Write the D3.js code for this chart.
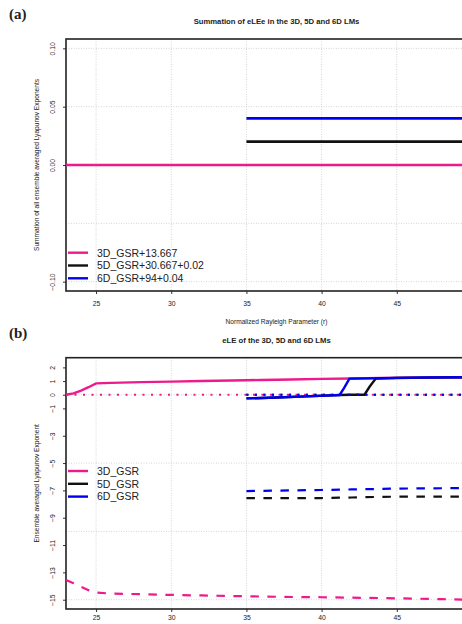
<!DOCTYPE html>
<html>
<head>
<meta charset="utf-8">
<script src="https://cdn.jsdelivr.net/npm/d3@7"></script>
<style>
body { margin: 0; background: #fff; }
text { font-family: "Liberation Sans", Arial, sans-serif; fill: #222; }
</style>
</head>
<body>
<svg id="chart"></svg>
<script>
// ---- data ----
var xTicks = [25, 30, 35, 40, 45];

// (a) sums of exponents (shifted)
var sumNames = ["3D_GSR+13.667", "5D_GSR+30.667+0.02", "6D_GSR+94+0.04"];
var sum3D_r = [23, 50],  sum3D = [0.0, 0.0];
var sum5D_r = [35, 50],  sum5D = [0.02, 0.02];
var sum6D_r = [35, 50],  sum6D = [0.04, 0.04];
var yTicksA = [0.10, 0.05, 0.00, -0.10];
var yGridA = [0.10, 0.05, 0.00, -0.05, -0.10];

// (b) exponents
var leNames = ["3D_GSR", "5D_GSR", "6D_GSR"];
var r3D    = [23, 23.5, 24, 24.5, 25, 26, 28, 30, 32, 34, 35, 36, 38, 40, 42, 44, 46, 48, 50];
var le3D_1 = [0.0, 0.1, 0.3, 0.55, 0.83, 0.87, 0.92, 0.96, 1.0, 1.04, 1.06, 1.08, 1.12, 1.16, 1.19, 1.22, 1.25, 1.27, 1.29];
var le3D_2 = [0, 0, 0, 0, 0, 0, 0, 0, 0, 0, 0, 0, 0, 0, 0, 0, 0, 0, 0];
var le3D_3 = [-13.56, -13.8, -14.05, -14.3, -14.48, -14.55, -14.6, -14.65, -14.69, -14.73, -14.75, -14.77, -14.8, -14.82, -14.85, -14.88, -14.92, -14.96, -15.0];

var r5D_1  = [35, 37, 39, 41.2, 42, 42.85, 43.2, 43.6, 45, 47, 50];
var le5D_1 = [-0.27, -0.2, -0.12, -0.02, 0.0, 0.0, 0.6, 1.18, 1.22, 1.25, 1.29];
var r5D    = [35, 38, 40, 42, 43, 45, 47, 50];
var le5D_2 = [0, 0, 0, 0, 0, 0, 0, 0];
var le5D_3 = [-7.56, -7.56, -7.56, -7.52, -7.49, -7.46, -7.46, -7.46];

var r6D_1  = [35, 37, 39, 41.2, 41.5, 41.85, 43, 45, 47, 50];
var le6D_1 = [-0.27, -0.2, -0.12, -0.02, 0.5, 1.18, 1.2, 1.23, 1.26, 1.29];
var r6D    = [35, 37, 40, 42, 45, 47, 50];
var le6D_2 = [0, 0, 0, 0, 0, 0, 0];
var le6D_3 = [-7.05, -7.02, -6.97, -6.93, -6.87, -6.85, -6.83];
var yTicksB = [2, 1, 0, -1, -3, -5, -7, -9, -11, -13, -15];
var yGridB = [0, -5, -10, -15];

var colors = ["#EE1A8C", "#111111", "#0000F0"];

var svgWidth = 462, svgHeight = 624;
var left = 66, right = 487;

var svg = d3.select("#chart")
    .attr("width", svgWidth)
    .attr("height", svgHeight);

var x = d3.scaleLinear().domain([23, 51]).range([left, right]);

function zip(xs, ys) {
    return xs.map(function(d, i) { return [d, ys[i]]; });
}

function panel(top, bottom, yDomain, yTicks, yGrid, letter, title, yLabel, xLabel, xLabelShift) {
    var y = d3.scaleLinear().domain(yDomain).range([bottom, top]);
    var g = svg.append("g");
    var fmt = yDomain[1] < 1 ? d3.format(".2f") : d3.format("d");

    // grid
    g.selectAll(".vgrid").data(xTicks).enter().append("line")
        .attr("x1", function(d) { return x(d); }).attr("x2", function(d) { return x(d); })
        .attr("y1", top).attr("y2", bottom)
        .attr("stroke", "#d4d4d4").attr("stroke-dasharray", "1,1.5");
    g.selectAll(".hgrid").data(yGrid).enter().append("line")
        .attr("x1", left).attr("x2", right)
        .attr("y1", function(d) { return y(d); }).attr("y2", function(d) { return y(d); })
        .attr("stroke", "#d4d4d4").attr("stroke-dasharray", "1,1.5");

    // axes
    var ya = g.append("g").attr("transform", "translate(" + left + ",0)")
        .call(d3.axisLeft(y).tickValues(yTicks).tickSize(3).tickPadding(8));
    ya.select(".domain").remove();
    ya.selectAll("line").attr("stroke", "#333");
    ya.selectAll("text")
        .attr("x", 0).attr("y", -11).attr("dy", 0)
        .attr("text-anchor", "middle")
        .attr("transform", "rotate(-90)")
        .style("font-size", "6.8px").style("font-family", "Liberation Sans, Arial, sans-serif")
        .attr("fill", "#333")
        .text(function(d) { return d < 0 ? "\u2212" + fmt(-d) : fmt(d); });

    var xa = g.append("g").attr("transform", "translate(0," + bottom + ")")
        .call(d3.axisBottom(x).tickValues(xTicks).tickSize(3).tickPadding(7));
    xa.select(".domain").remove();
    xa.selectAll("line").attr("stroke", "#333");
    xa.selectAll("text").style("font-size", "6.8px")
        .style("font-family", "Liberation Sans, Arial, sans-serif").attr("fill", "#333")
        .attr("y", 10 + (xLabelShift || 0));

    // box
    g.append("rect")
        .attr("x", left).attr("y", top)
        .attr("width", right - left).attr("height", bottom - top)
        .attr("fill", "none").attr("stroke", "#222").attr("stroke-width", 1.6);

    // labels
    svg.append("text").attr("x", 9).attr("y", top - 20)
        .style("font-family", "Liberation Serif, DejaVu Serif, serif")
        .style("font-weight", "bold").style("font-size", "15px")
        .text(letter);
    svg.append("text").attr("x", (left + right) / 2).attr("y", top - 15)
        .attr("text-anchor", "middle")
        .style("font-weight", "bold").style("font-size", "7.7px")
        .text(title);
    svg.append("text")
        .attr("transform", "translate(39," + (top + bottom) / 2 + ") rotate(-90)")
        .attr("text-anchor", "middle")
        .style("font-size", "6.6px")
        .text(yLabel);
    if (xLabel) {
        svg.append("text").attr("x", (left + right) / 2).attr("y", bottom + 33)
            .attr("text-anchor", "middle")
            .style("font-size", "6.6px")
            .text(xLabel);
    }
    return { g: g, y: y };
}

function drawLine(p, pts, color, dash, width) {
    var line = d3.line()
        .x(function(d) { return x(d[0]); })
        .y(function(d) { return p.y(d[1]); });
    p.g.append("path")
        .datum(pts)
        .attr("d", line)
        .attr("fill", "none")
        .attr("stroke", color)
        .attr("stroke-width", width || 2.4)
        .attr("stroke-dasharray", dash || null);
}

function legend(top, names) {
    var lg = svg.append("g");
    names.forEach(function(n, i) {
        var yy = top + i * 12.8;
        lg.append("line").attr("x1", 68).attr("x2", 88).attr("y1", yy).attr("y2", yy)
            .attr("stroke", colors[i]).attr("stroke-width", 2.4);
        lg.append("text").attr("x", 97).attr("y", yy + 3.8)
            .style("font-size", "10.5px").text(n);
    });
}

// ---- panel (a) ----
var pa = panel(39, 291, [-0.108, 0.108], yTicksA, yGridA, "(a)",
    "Summation of eLEe in the 3D, 5D and 6D LMs",
    "Summation of all ensemble averaged Lyapunov Exponents",
    "Normalized Rayleigh Parameter (r)", 0);
drawLine(pa, zip(sum3D_r, sum3D), colors[0], null, 2.6);
drawLine(pa, zip(sum5D_r, sum5D), colors[1], null, 2.6);
drawLine(pa, zip(sum6D_r, sum6D), colors[2], null, 2.6);
legend(252.7, sumNames);

// ---- panel (b) ---- (x tick labels pulled up a little so they fit above the bottom edge)
var pb = panel(357.7, 609, [-15.68, 2.71], yTicksB, yGridB, "(b)",
    "eLE of the 3D, 5D and 6D LMs",
    "Ensemble averaged Lyapunov Exponent", null, -3.5);
drawLine(pb, zip(r3D, le3D_1), colors[0]);
drawLine(pb, zip(r3D, le3D_2), colors[0], "2,6.5", 2.2);
drawLine(pb, zip(r3D, le3D_3), colors[0], "8.5,8.5", 2.2);
drawLine(pb, zip(r5D_1, le5D_1), colors[1]);
drawLine(pb, zip(r5D, le5D_2), colors[1], "2,6.5", 2.2);
drawLine(pb, zip(r5D, le5D_3), colors[1], "8.5,8.5", 2.2);
drawLine(pb, zip(r6D_1, le6D_1), colors[2]);
drawLine(pb, zip(r6D, le6D_2), colors[2], "2,6.5", 2.2);
drawLine(pb, zip(r6D, le6D_3), colors[2], "8.5,8.5", 2.2);
legend(471, leNames);
</script>
</body>
</html>
